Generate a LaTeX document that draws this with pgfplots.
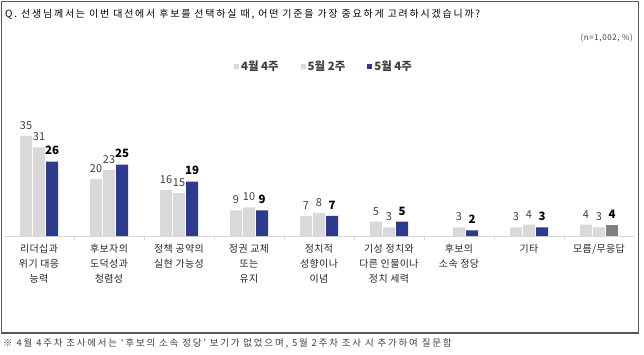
\documentclass[border=0pt]{standalone}
\usepackage{fontspec}
\setmainfont{Noto Sans CJK KR}
\usepackage{pgfplots}
\pgfplotsset{compat=1.18}
\definecolor{lg}{HTML}{D9D9D9}
\definecolor{navy}{HTML}{2E3A8C}
\definecolor{dg}{HTML}{808080}
\definecolor{txt}{HTML}{404040}
\definecolor{frame}{HTML}{595959}
\begin{document}
\begin{tikzpicture}[x=1bp,y=1bp]
\useasboundingbox (0,0) rectangle (644,354);
\fill[white] (0,0) rectangle (644,354);
\draw[color=frame, line width=1.2bp] (1.5,21) rectangle (638.5,352.5);
\node[anchor=west, inner sep=0, font=\fontsize{10}{12}\selectfont\addfontfeature{LetterSpace=18}, text=black] at (5,340) {Q. 선생님께서는 이번 대선에서 후보를 선택하실 때, 어떤 기준을 가장 중요하게 고려하시겠습니까?};
\node[anchor=east, inner sep=0, font=\fontsize{8}{10}\selectfont\addfontfeature{LetterSpace=8}, text=txt] at (633,316) {(n=1,002, \%)};
\node[anchor=west, inner sep=0, font=\fontsize{9.5}{11}\selectfont\addfontfeature{LetterSpace=19}, text=txt] at (3,11) {※ 4월 4주차 조사에서는 ‘후보의 소속 정당’ 보기가 없었으며, 5월 2주차 조사 시 추가하여 질문함};
\begin{axis}[
  at={(4bp,118bp)}, anchor=south west,
  scale only axis, width=630bp, height=114.4bp,
  xmin=-0.5, xmax=8.5, ymin=0, ymax=40,
  ybar, bar width=12bp,
  axis y line=none, axis x line*=bottom,
  x axis line style={lg, line width=1bp, -},
  clip=false,
  /pgf/number format/assume math mode=true,
  xtick={0,...,8}, major tick length=0pt,
  minor xtick={0.5,1.5,...,7.5}, minor tick length=4bp, tick align=outside,
  minor tick style={lg, line width=0.8bp},
  xticklabels={{리더십과\\위기 대응\\능력},{후보자의\\도덕성과\\청렴성},{정책 공약의\\실현 가능성},{정권 교체\\또는\\유지},{정치적\\성향이나\\이념},{기성 정치와\\다른 인물이나\\정치 세력},{후보의\\소속 정당},{기타},{모름/무응답}},
  xticklabel style={align=center, font=\fontsize{10}{15}\selectfont\addfontfeature{LetterSpace=4}, text=black!85, yshift=-5bp},
  legend style={at={(0.508,1.486)}, anchor=center, draw=none, fill=none, legend columns=3,
    font=\bfseries\fontsize{11.5}{13}\selectfont, text=txt,
    /tikz/every even column/.append style={column sep=20bp}},
  legend image code/.code={\path[#1, draw=none] (0bp,-2.5bp) rectangle (5bp,2.5bp);},
  nodes near coords,
  every node near coord/.append style={font=\fontsize{11}{12}\selectfont, text=txt, yshift=3bp},
]
\addplot[fill=lg, draw=none, bar shift=-13bp] coordinates {(0,35) (1,20) (2,16) (3,9) (4,7) (5,5) (7,3) (8,4)};
\addlegendentry{4월 4주}
\addplot[fill=lg, draw=none, bar shift=0bp] coordinates {(0,31) (1,23) (2,15) (3,10) (4,8) (5,3) (6,3) (7,4) (8,3)};
\addlegendentry{5월 2주}
\addplot[fill=navy, draw=none, bar shift=13bp, every node near coord/.append style={font=\bfseries\fontsize{11.5}{12}\selectfont, text=black}] coordinates {(0,26) (1,25) (2,19) (3,9) (4,7) (5,5) (6,2) (7,3)};
\addlegendentry{5월 4주}
\addplot[fill=dg, draw=none, bar shift=13bp, forget plot, every node near coord/.append style={font=\bfseries\fontsize{11.5}{12}\selectfont, text=black}] coordinates {(8,4)};
\end{axis}
\end{tikzpicture}
\end{document}
